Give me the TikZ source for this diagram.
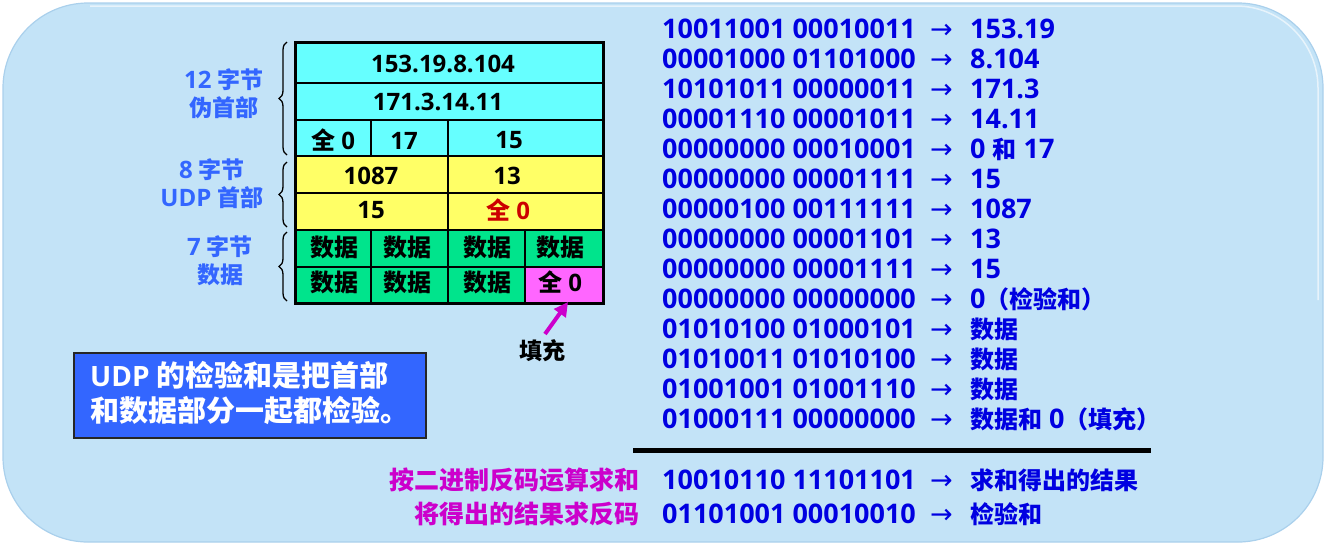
\documentclass[tikz,border=0pt]{standalone}
\usepackage{fontspec}
\setmainfont{Open Sans}
\newfontfamily\cjk{Noto Sans CJK SC}
\newfontfamily\arrfont{DejaVu Sans}
\usetikzlibrary{arrows.meta,decorations.pathreplacing}
\definecolor{bgc}{RGB}{195,227,247}
\definecolor{bgline}{RGB}{170,208,236}
\definecolor{cyanc}{RGB}{102,255,255}
\definecolor{yellowc}{RGB}{255,255,102}
\definecolor{greenc}{RGB}{0,228,140}
\definecolor{magc}{RGB}{255,102,255}
\definecolor{redt}{RGB}{204,0,0}
\definecolor{lblue}{RGB}{51,102,255}
\definecolor{tblue}{RGB}{0,0,225}
\definecolor{magt}{RGB}{204,0,204}
\definecolor{boxblue}{RGB}{51,102,255}
\def\zhsize{24}
\newcommand\zh[1]{{\cjk\fontsize{\zhsize}{\zhsize}\selectfont #1}}
\newcommand\fs[1]{\fontsize{#1}{#1}\selectfont}
\tikzset{
  celltxt/.style={inner sep=0pt, font=\bfseries\fs{24}, text=black},
  sidelbl/.style={inner sep=0pt, font=\bfseries\fs{24}, text=lblue, align=center},
  rowtxt/.style={inner sep=0pt, anchor=base west, font=\bfseries\fs{27}, text=tblue},
  arrtxt/.style={inner sep=0pt, anchor=base, font=\arrfont\fs{27}, text=tblue},
  magtxt/.style={inner sep=0pt, anchor=base east, font=\cjk\bfseries\fs{25}, text=magt},
  bracestyle/.style={decorate, decoration={brace, amplitude=8pt}, line width=1.3pt, black},
  grid/.style={line width=2pt, black},
}
\begin{document}
\begin{tikzpicture}[x=1pt,y=-1pt]
\useasboundingbox (0,0) rectangle (1326,547);
% background
\path[fill=bgc, draw=bgline, line width=1.2pt, rounded corners=85pt] (3,3) rectangle (1323,542);
\draw[white, opacity=0.6, line width=1.5pt, rounded corners=82pt] (90,6) -- (1318,6) -- (1318,300);
% table fills
\def\XA{295}\def\XB{371}\def\XC{448}\def\XD{525}\def\XE{603}
\fill[cyanc] (\XA,42.7) rectangle (\XE,156);
\fill[yellowc] (\XA,156) rectangle (\XE,230);
\fill[greenc] (\XA,230) rectangle (\XE,303.3);
\fill[magc] (\XD,266.7) rectangle (\XE,303.3);
% grid
\foreach \yy in {82.7,120,156,192.7,230,266.7} \draw[grid] (\XA,\yy) -- (\XE,\yy);
\draw[grid] (\XB,120) -- (\XB,156);
\draw[grid] (\XB,230) -- (\XB,303.3);
\draw[grid] (\XC,120) -- (\XC,303.3);
\draw[grid] (\XD,230) -- (\XD,303.3);
\draw[line width=3pt, black] (\XA,42.7) rectangle (\XE,303.3);
% cell texts
\node[celltxt] (t1) at (443,64) {153.19.8.104};
\node[celltxt] (t2) at (438,101.5) {171.3.14.11};
\node[celltxt] (t3) at (333,140.5) {\zh{全} 0};
\node[celltxt] (t4) at (404,140.5) {17};
\node[celltxt] (t5) at (509,140.5) {15};
\node[celltxt] (t6) at (371,176) {1087};
\node[celltxt] (t7) at (507,176) {13};
\node[celltxt] (t8) at (371,210.5) {15};
\node[celltxt, text=redt] (t9) at (508,210.5) {\zh{全} 0};
\node[celltxt] (d1) at (334,247.5) {\zh{数据}};
\node[celltxt] (d2) at (407.5,247.5) {\zh{数据}};
\node[celltxt] (d3) at (487.5,247.5) {\zh{数据}};
\node[celltxt] (d4) at (560.5,247.5) {\zh{数据}};
\node[celltxt] (d5) at (334,282.5) {\zh{数据}};
\node[celltxt] (d6) at (407.5,282.5) {\zh{数据}};
\node[celltxt] (d7) at (487.5,282.5) {\zh{数据}};
\node[celltxt] (pad) at (560,282.5) {\zh{全} 0};
% side labels
\def\zhsize{23}
\node[sidelbl] (l1) at (224,80) {12 \zh{字节}};
\node[sidelbl] (l2) at (224,108) {\zh{伪首部}};
\node[sidelbl] (l3) at (212,169.5) {8 \zh{字节}};
\node[sidelbl] (l4) at (212,198) {UDP \zh{首部}};
\node[sidelbl] (l5) at (220,247) {7 \zh{字节}};
\node[sidelbl] (l6) at (220,275) {\zh{数据}};
% braces
\coordinate (b1s) at (287,155);
\coordinate (b1e) at (287,42);
\coordinate (b2s) at (287,227);
\coordinate (b2e) at (287,162);
\coordinate (b3s) at (287,301);
\coordinate (b3e) at (287,232);
\draw[bracestyle] (b1s) -- (b1e);
\draw[bracestyle] (b2s) -- (b2e);
\draw[bracestyle] (b3s) -- (b3e);
% fill arrow
\node[inner sep=0pt, font=\cjk\bfseries\fs{23}, text=black] (fill) at (542.5,351) {填充};
\coordinate (padtip) at (568,302);
\draw[magt, line width=4pt, -{Triangle[length=14pt,width=14pt]}] (545,334) -- (padtip);
% blue box
\node[draw=black!85, line width=2pt, fill=boxblue, minimum width=352pt, minimum height=85pt, inner sep=0pt] (box) at (249.7,395.7) {};
\def\zhsize{29}
\node[inner sep=0pt, anchor=base west, text=white, font=\bfseries\fs{28}] (bx1) at (90,386.5) {UDP \zh{的检验和是把首部}};
\node[inner sep=0pt, anchor=base west, text=white, font=\bfseries\fs{28}] (bx2) at (90,421.5) {\zh{和数据部分一起都检验。}};
% right rows
\def\zhsize{24}
\foreach \i/\b/\r in {
 1/10011001 00010011/153.19,
 2/00001000 01101000/8.104,
 3/10101011 00000011/171.3,
 4/00001110 00001011/14.11,
 5/00000000 00010001/0 \zh{和} 17,
 6/00000000 00001111/15,
 7/00000100 00111111/1087,
 8/00000000 00001101/13,
 9/00000000 00001111/15,
 10/00000000 00000000/0\zh{（检验和）},
 11/01010100 01000101/\zh{数据},
 12/01010011 01010100/\zh{数据},
 13/01001001 01001110/\zh{数据},
 14/01000111 00000000/\zh{数据和} 0\zh{（填充）}}
{
  \pgfmathsetmacro\yb{38.3+30*(\i-1)}
  \node[rowtxt] (bin\i) at (662,\yb) {\b};
  \node[arrtxt] (arr\i) at (941.5,\yb) {→};
  \node[rowtxt] (res\i) at (970,\yb) {\r};
}
% sum line
\coordinate (ls) at (633,450);
\coordinate (le) at (1151,450);
\draw[line width=5pt, black] (ls) -- (le);
% result rows
\node[rowtxt] (bins) at (662,489.6) {10010110 11101101};
\node[arrtxt] (arrs) at (941.5,489.6) {→};
\node[rowtxt] (ress) at (970,489.6) {\zh{求和得出的结果}};
\node[magtxt] (ms) at (640,489.6) {按二进制反码运算求和};
\node[rowtxt] (binc) at (662,523) {01101001 00010010};
\node[arrtxt] (arrc) at (941.5,523) {→};
\node[rowtxt] (resc) at (970,523) {\zh{检验和}};
\node[magtxt] (mc) at (640,523) {将得出的结果求反码};
\end{tikzpicture}
\end{document}
